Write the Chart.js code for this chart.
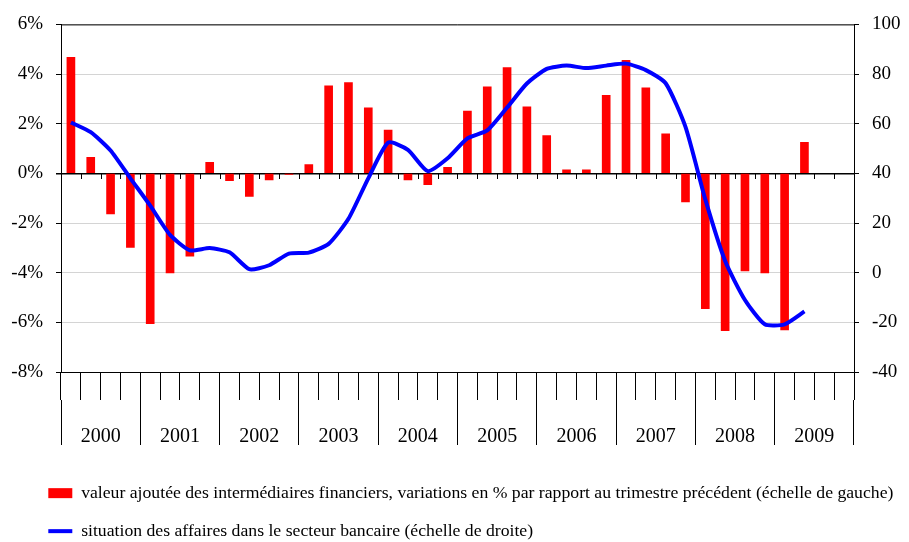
<!DOCTYPE html>
<html>
<head>
<meta charset="utf-8">
<script src="https://cdn.jsdelivr.net/npm/chart.js@4"></script>
<style>
  html, body { margin: 0; padding: 0; background: #fff; overflow: hidden; }
  #wrap { width: 909px; height: 550px; }
</style>
</head>
<body>
<div id="wrap"><canvas id="myChart"></canvas></div>
<script>
// trimestres 2000T1 .. 2009T4
var years = ["2000", "2001", "2002", "2003", "2004", "2005", "2006", "2007", "2008", "2009"];
var quarters = [];
years.forEach(function (y) {
    for (var q = 1; q <= 4; q++) quarters.push(y + "T" + q);
});

// valeur ajoutée, variation en % (échelle de gauche)
var valeurAjoutee = [4.67, 0.65, -1.63, -2.98, -6.05, -4.01, -3.33, 0.44, -0.29, -0.93,
    -0.26, -0.04, 0.35, 3.53, 3.66, 2.64, 1.74, -0.26, -0.46, 0.24,
    2.51, 3.49, 4.26, 2.68, 1.52, 0.14, 0.14, 3.14, 4.55, 3.45,
    1.59, -1.15, -5.45, -6.34, -3.93, -4.01, -6.31, 1.25];

// situation des affaires, secteur bancaire (échelle de droite)
var situationAffaires = [60.5, 56.6, 49.2, 38.0, 27.0, 15.2, 9.0, 9.9, 8.2, 1.4,
    3.0, 7.7, 8.1, 11.6, 21.7, 38.0, 52.4, 49.5, 40.9, 46.1,
    54.1, 57.3, 66.5, 76.2, 82.1, 83.4, 82.4, 83.4, 84.2, 81.6,
    76.3, 58.7, 29.5, 4.7, -11.0, -20.8, -20.8, -15.6];

var leftTicks = [-8, -6, -4, -2, 0, 2, 4, 6];
var rightTicks = [-40, -20, 0, 20, 40, 60, 80, 100];

var serif = "'Liberation Serif', 'Times New Roman', serif";

// cadre du haut + petites graduations sur la ligne du zéro
var cadre = {
    id: 'cadre',
    afterLayout: function (chart) {
        // laisse la place aux libellés de gauche (sinon coupés)
        chart.scales.y.left = 0;
    },
    afterDatasetsDraw: function (chart) {
        var ctx = chart.ctx, a = chart.chartArea;
        var xs = chart.scales.x, ys = chart.scales.y;
        ctx.save();
        ctx.strokeStyle = '#000';
        ctx.lineWidth = 1;
        ctx.beginPath();
        ctx.moveTo(a.left, a.top + 0.5);
        ctx.lineTo(a.right, a.top + 0.5);
        var y0 = Math.round(ys.getPixelForValue(0));
        var step = xs.getPixelForValue(1) - xs.getPixelForValue(0);
        for (var i = 1; i < quarters.length; i++) {
            var x = Math.round(xs.getPixelForValue(i) - step / 2) + 0.5;
            ctx.moveTo(x, y0);
            ctx.lineTo(x, y0 + 6);
        }
        ctx.stroke();
        ctx.restore();
    }
};

var ctx = document.getElementById("myChart");
var chart = new Chart(ctx, {
    type: 'bar',
    data: {
        labels: quarters,
        datasets: [
            {
                label: "valeur ajoutée des intermédiaires financiers, variations en % par rapport au trimestre précédent (échelle de gauche)",
                data: valeurAjoutee,
                backgroundColor: "#ff0000",
                borderWidth: 0,
                barThickness: 8,
                yAxisID: 'y',
                order: 2
            },
            {
                type: 'line',
                label: "situation des affaires dans le secteur bancaire (échelle de droite)",
                data: situationAffaires,
                borderColor: "#0000ff",
                backgroundColor: "#0000ff",
                borderWidth: 4,
                pointRadius: 0,
                tension: 0.2,
                fill: false,
                yAxisID: 'y1',
                order: 1
            }
        ]
    },
    options: {
        responsive: true,
        maintainAspectRatio: false,
        animation: false,
        layout: { padding: { left: 28, right: 0, top: 15, bottom: 0 } },
        plugins: {
            tooltip: { enabled: false },
            legend: {
                position: 'bottom',
                align: 'start',
                labels: {
                    usePointStyle: true,
                    pointStyleWidth: 24,
                    boxHeight: 10,
                    padding: 20.3,
                    color: '#000',
                    font: { family: serif, size: 17.7 },
                    sort: function (a, b) { return a.datasetIndex - b.datasetIndex; },
                    generateLabels: function (chart) {
                        var items = Chart.defaults.plugins.legend.labels.generateLabels(chart);
                        items.forEach(function (it) {
                            it.pointStyle = it.datasetIndex === 0 ? 'rect' : 'line';
                            if (it.datasetIndex === 1) { it.strokeStyle = '#0000ff'; it.lineWidth = 4; }
                        });
                        return items;
                    }
                }
            }
        },
        scales: {
            x: {
                type: 'category',
                position: 'bottom',
                offset: true,
                grid: { display: true, offset: true, drawOnChartArea: false, tickLength: 28, color: '#000' },
                border: { display: true, color: '#000' },
                ticks: { display: false },
                afterFit: function (s) { s.height = 28; }
            },
            x2: {
                type: 'category',
                labels: years,
                position: 'bottom',
                offset: true,
                grid: { display: true, offset: true, drawOnChartArea: false, tickLength: 45, color: '#000' },
                border: { display: false },
                ticks: { color: '#000', padding: -20, maxRotation: 0, font: { family: serif, size: 20 } },
                afterFit: function (s) { s.height = 64; }
            },
            y: {
                position: 'left',
                min: -8,
                max: 6,
                afterBuildTicks: function (s) { s.ticks = leftTicks.map(function (v) { return { value: v }; }); },
                grid: {
                    color: function (c) { return c.tick && c.tick.value === 0 ? '#000' : '#d4d4d4'; },
                    lineWidth: function (c) { return c.tick && c.tick.value === 0 ? 1.5 : 1; },
                    tickColor: '#000',
                    tickLength: 5
                },
                border: { display: true, color: '#000' },
                ticks: {
                    color: '#000',
                    padding: 13,
                    font: { family: serif, size: 19 },
                    callback: function (v) { return v + '%'; }
                },
                afterFit: function (s) { s.width = 33; }
            },
            y1: {
                position: 'right',
                min: -40,
                max: 100,
                afterBuildTicks: function (s) { s.ticks = rightTicks.map(function (v) { return { value: v }; }); },
                grid: { drawOnChartArea: false, tickColor: '#000', tickLength: 5 },
                border: { display: true, color: '#000' },
                ticks: { color: '#000', padding: 13, font: { family: serif, size: 19 } },
                afterFit: function (s) { s.width = 55; }
            }
        }
    },
    plugins: [cadre]
});
</script>
</body>
</html>
